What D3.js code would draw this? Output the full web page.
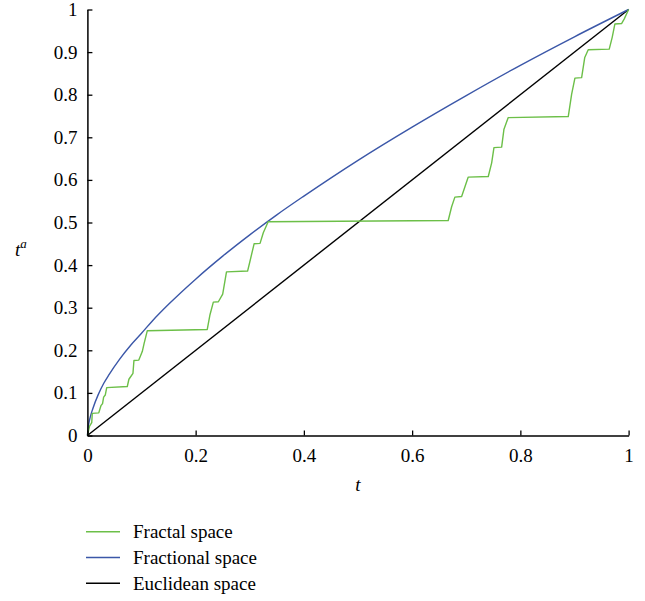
<!DOCTYPE html>
<html>
<head>
<meta charset="utf-8">
<script src="https://cdn.jsdelivr.net/npm/d3@7"></script>
<style>
  body { margin: 0; background: #fff; }
</style>
</head>
<body>
<div id="chart"></div>
<script>
// tick values
const xTicks = [0, 0.2, 0.4, 0.6, 0.8, 1];
const yTicks = [0, 0.1, 0.2, 0.3, 0.4, 0.5, 0.6, 0.7, 0.8, 0.9, 1];

// Fractional space curve
const fracT = [0, 0.002, 0.005, 0.01, 0.02, 0.03, 0.04, 0.06, 0.08, 0.1, 0.12, 0.15, 0.2, 0.25, 0.3, 0.35, 0.4, 0.5, 0.6, 0.7, 0.8, 0.9, 1];
const fracY = [0, 0.024, 0.042, 0.063, 0.096, 0.122, 0.143, 0.180, 0.212, 0.240, 0.269, 0.308, 0.367, 0.421, 0.471, 0.518, 0.562, 0.646, 0.724, 0.798, 0.869, 0.936, 1];

// Euclidean space line
const euclidT = [0, 1];
const euclidY = [0, 1];

// Fractal space staircase (vertices)
const fractalT = [0, 0.004, 0.008, 0.009, 0.021, 0.025, 0.028, 0.030, 0.033, 0.0357, 0.0737, 0.0767, 0.0842, 0.086, 0.095,
  0.1014, 0.1046, 0.1107, 0.2215, 0.2265, 0.2327, 0.242, 0.250, 0.257, 0.296, 0.3004, 0.308, 0.319, 0.325, 0.334,
  0.6667, 0.673, 0.679, 0.6915, 0.6976, 0.7037, 0.7407, 0.747, 0.7512, 0.7654, 0.7697, 0.7776, 0.8885, 0.8947,
  0.9008, 0.9132, 0.919, 0.9254, 0.9642, 0.9697, 0.9747, 0.987, 0.992, 1];
const fractalY = [0, 0.022, 0.030, 0.052, 0.053, 0.070, 0.075, 0.090, 0.095, 0.1125, 0.115, 0.132, 0.146, 0.176, 0.177,
  0.197, 0.215, 0.246, 0.249, 0.2835, 0.313, 0.314, 0.332, 0.384, 0.386, 0.409, 0.450, 0.451, 0.476, 0.5017,
  0.5047, 0.537, 0.5596, 0.561, 0.584, 0.6066, 0.608, 0.640, 0.6758, 0.677, 0.719, 0.7463, 0.7487, 0.801,
  0.839, 0.840, 0.8875, 0.9055, 0.907, 0.9346, 0.966, 0.967, 0.978, 1];

const legendNames = ["Fractal space", "Fractional space", "Euclidean space"];
const colors = ["#6cbf48", "#3b57a8", "#000000"];
const serif = "Liberation Serif, DejaVu Serif, serif";

const width = 645, height = 601;
const svg = d3.select("#chart").append("svg")
  .attr("width", width)
  .attr("height", height)
  .attr("font-family", serif);

const xScale = d3.scaleLinear().domain([0, 1]).range([87.4, 628.6]);
const yScale = d3.scaleLinear().domain([0, 1]).range([435.5, 9.5]);

const line = d3.line()
  .x(d => xScale(d[0]))
  .y(d => yScale(d[1]));

const smooth = d3.line()
  .x(d => xScale(d[0]))
  .y(d => yScale(d[1]))
  .curve(d3.curveMonotoneX);

svg.append("path")
  .datum(euclidT.map((t, i) => [t, euclidY[i]]))
  .attr("d", line)
  .attr("fill", "none")
  .attr("stroke", colors[2])
  .attr("stroke-width", 1.4);

svg.append("path")
  .datum(fracT.map((t, i) => [t, fracY[i]]))
  .attr("d", smooth)
  .attr("fill", "none")
  .attr("stroke", colors[1])
  .attr("stroke-width", 1.4);

svg.append("path")
  .datum(fractalT.map((t, i) => [t, fractalY[i]]))
  .attr("d", line)
  .attr("fill", "none")
  .attr("stroke", colors[0])
  .attr("stroke-width", 1.4)
  .attr("stroke-linejoin", "round");

// axes, ticks pointing inward
const xAxis = svg.append("g")
  .attr("transform", `translate(0, ${yScale(0)})`)
  .call(d3.axisBottom(xScale).tickValues(xTicks).tickSizeInner(-5).tickSizeOuter(0).tickPadding(13)
    .tickFormat(d => d3.format("")(d)));
const yAxis = svg.append("g")
  .attr("transform", `translate(${xScale(0)}, 0)`)
  .call(d3.axisLeft(yScale).tickValues(yTicks).tickSizeInner(-5).tickSizeOuter(0).tickPadding(10)
    .tickFormat(d => d3.format("")(d)));

[xAxis, yAxis].forEach(g => {
  g.attr("font-family", serif).attr("font-size", 19);
  g.select(".domain").attr("stroke", "#000").attr("stroke-width", 1.5);
  g.selectAll(".tick line").attr("stroke", "#000").attr("stroke-width", 1.3);
  g.selectAll(".tick text")
    .attr("font-family", serif)
    .attr("fill", "#000");
});

// axis titles
svg.append("text")
  .attr("x", xScale(0.5))
  .attr("y", 491)
  .attr("text-anchor", "middle")
  .attr("font-family", serif)
  .attr("font-size", 19)
  .attr("font-style", "italic")
  .text("t");

const yt = svg.append("text")
  .attr("x", 15)
  .attr("y", 256)
  .attr("font-family", serif)
  .attr("font-size", 19)
  .attr("font-style", "italic");
yt.append("tspan").text("t");
yt.append("tspan").attr("dy", -8).attr("font-size", 13).text("a");

// legend
const legend = svg.append("g");
legendNames.forEach((name, i) => {
  const y = 531.7 + i * 25.8;
  legend.append("line")
    .attr("x1", 86).attr("x2", 120)
    .attr("y1", y).attr("y2", y)
    .attr("stroke", colors[i])
    .attr("stroke-width", 1.5);
  legend.append("text")
    .attr("x", 133)
    .attr("y", y + 6.5)
    .attr("font-family", serif)
    .attr("font-size", 19)
    .text(name);
});
</script>
</body>
</html>
